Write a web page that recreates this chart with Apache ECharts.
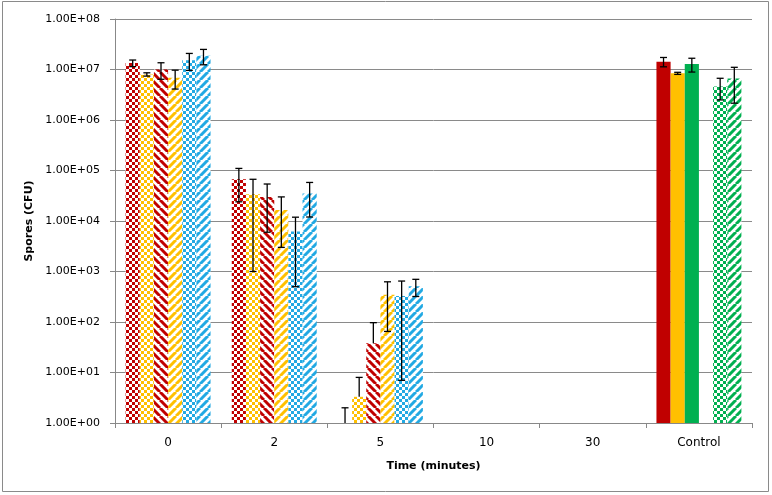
<!DOCTYPE html>
<html><head><meta charset="utf-8">
<script src="https://cdn.jsdelivr.net/npm/echarts@6/dist/echarts.min.js"></script>
<style>html,body{margin:0;padding:0;background:#fff}#c{width:772px;height:495px}</style>
</head><body><div id="c"></div>
<script>
var categories = ['0', '2', '5', '10', '30', 'Control'];
var s1 = [1.34e7, 6.7e4, null, null, null, 1.43e7];
var e1 = [2.0e6, 4.3e4, 2, null, null, 3.0e6];
var s2 = [8.0e6, 3.4e4, 3.3, null, null, 8.4e6];
var e2 = [6e5, 3.3e4, 4.7, null, null, 4e5];
var s3 = [1.0e7, 3.0e4, 38, null, null, 1.28e7];
var e3 = [3.6e6, 2.4e4, 59, null, null, 3.9e6];
var s4 = [6.9e6, 1.65e4, 345, null, null, null];
var e4 = [2.8e6, 1.35e4, 280, null, null, null];
var s5 = [1.52e7, 6.2e3, 327, null, null, 4.6e6];
var e5 = [5.6e6, 5.7e3, 320, null, null, 2.1e6];
var s6 = [1.87e7, 3.5e4, 510, null, null, 6.6e6];
var e6 = [6.3e6, 2.3e4, 190, null, null, 4.45e6];
var yTicks = [1, 10, 100, 1e3, 1e4, 1e5, 1e6, 1e7, 1e8];

var RED = '#C00000', YEL = '#FFC000', BLUE = '#22A9E3', GREEN = '#00B050';

function checker(col) {
  var c = document.createElement('canvas'); c.width = 6; c.height = 6;
  var g = c.getContext('2d'); g.fillStyle = '#fff'; g.fillRect(0,0,6,6);
  g.fillStyle = col; g.fillRect(0,0,3,3); g.fillRect(3,3,3,3);
  return {image: c, repeat: 'repeat'};
}
function stripes(col, back) {
  var n = 8, c = document.createElement('canvas'); c.width = n; c.height = n;
  var g = c.getContext('2d'); g.fillStyle = '#fff'; g.fillRect(0,0,n,n);
  g.strokeStyle = col; g.lineWidth = 3;
  for (var k = -1; k <= 1; k++) {
    g.beginPath();
    if (back) { g.moveTo(k*n, 0); g.lineTo(k*n + n, n); }
    else { g.moveTo(k*n, n); g.lineTo(k*n + n, 0); }
    g.stroke();
  }
  return {image: c, repeat: 'repeat'};
}

var seriesVals = [s1, s2, s3, s4, s5, s6];
var seriesErrs = [e1, e2, e3, e4, e5, e6];
var mainFill = [checker(RED), checker(YEL), stripes(RED, true), stripes(YEL, false), checker(BLUE), stripes(BLUE, false)];
var ctrlFill = [RED, YEL, GREEN, '#fff', checker(GREEN), stripes(GREEN, false)];

var series = [];
for (var i = 0; i < 6; i++) {
  series.push({
    type: 'bar', barGap: '0%', barCategoryGap: '20%',
    data: seriesVals[i].map(function (v, j) {
      return {value: v == null ? '-' : v, itemStyle: {color: j === 5 ? ctrlFill[i] : mainFill[i]}};
    }),
    itemStyle: {color: mainFill[i]}
  });
}
var errData = [];
for (var i = 0; i < 6; i++) for (var j = 0; j < categories.length; j++) {
  if (seriesErrs[i][j] != null) errData.push([j, i, seriesVals[i][j] == null ? 0 : seriesVals[i][j], seriesErrs[i][j]]);
}
series.push({
  type: 'custom', data: errData, encode: {x: 0, y: 2}, z: 10, clip: false,
  renderItem: function (params, api) {
    var ci = api.value(0), si = api.value(1), v = api.value(2), e = api.value(3);
    var band = api.size([1, 0])[0];
    var bw = band * 0.8 / 6;
    var cx = api.coord([ci, 1])[0] - band * 0.4 + (si + 0.5) * bw;
    var yBase = api.coord([ci, 1])[1];
    var top = v + e, low = v - e;
    var yTop = api.coord([ci, top])[1];
    var yMid = v > 0 ? api.coord([ci, v])[1] : yBase;
    var yLow = low > 0 ? api.coord([ci, low])[1] : null;
    var st = {stroke: '#000', lineWidth: 1.3};
    var ch = [];
    var bottom = yLow != null ? yLow : Math.min(yMid, yBase);
    if (v <= 0) bottom = yBase;
    ch.push({type: 'line', shape: {x1: cx, y1: yTop, x2: cx, y2: bottom}, style: st});
    ch.push({type: 'line', shape: {x1: cx - 3.5, y1: yTop, x2: cx + 3.5, y2: yTop}, style: st});
    if (yLow != null) ch.push({type: 'line', shape: {x1: cx - 3.5, y1: yLow, x2: cx + 3.5, y2: yLow}, style: st});
    return {type: 'group', children: ch};
  }
});

function fmt(v) {
  var ex = Math.round(Math.log10(v));
  return '1.00E+' + (ex < 10 ? '0' : '') + ex;
}

var chart = echarts.init(document.getElementById('c'), null, {renderer: 'canvas'});
chart.setOption({
  animation: false,
  backgroundColor: '#fff',
  textStyle: {fontFamily: 'DejaVu Sans'},
  grid: {left: 115, right: 20, top: 19, bottom: 72},
  graphic: [{type: 'rect', shape: {x: 2.5, y: 1.5, width: 766, height: 490},
    style: {fill: 'none', stroke: '#8a8a8a', lineWidth: 1}, silent: true}],
  xAxis: {
    type: 'category', data: categories,
    name: 'Time (minutes)', nameLocation: 'middle', nameGap: 38,
    nameTextStyle: {fontWeight: 'bold', fontSize: 11, color: '#000', fontFamily: 'DejaVu Sans'},
    axisLine: {lineStyle: {color: '#888'}},
    axisTick: {show: true, length: 5, lineStyle: {color: '#888'}},
    axisLabel: {fontSize: 12, color: '#000', margin: 14, fontFamily: 'DejaVu Sans'}
  },
  yAxis: {
    type: 'log', logBase: 10, min: yTicks[0], max: yTicks[yTicks.length - 1],
    name: 'Spores (CFU)', nameLocation: 'middle', nameGap: 80, nameRotate: 90,
    nameTextStyle: {fontWeight: 'bold', fontSize: 11, color: '#000', fontFamily: 'DejaVu Sans'},
    axisLine: {show: true, lineStyle: {color: '#888'}},
    axisTick: {show: true, length: 5, lineStyle: {color: '#888'}},
    axisLabel: {fontSize: 11, color: '#000', margin: 15, formatter: fmt, fontFamily: 'DejaVu Sans'},
    splitLine: {lineStyle: {color: '#8a8a8a', width: 1}}
  },
  series: series
});
</script></body></html>
